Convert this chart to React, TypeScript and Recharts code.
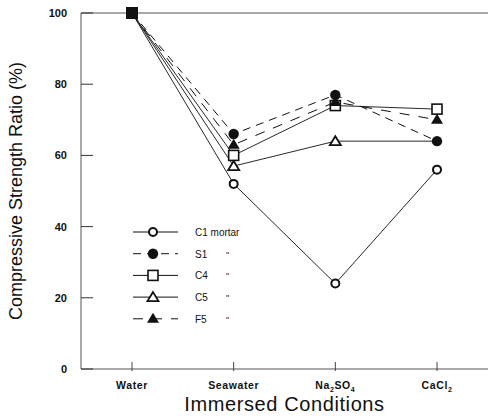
import { LineChart, Line, XAxis, YAxis, ReferenceLine } from "recharts";

const conditions = ["Water", "Seawater", "Na2SO4", "CaCl2"];
const c1 = [100, 52, 24, 56];
const s1 = [100, 66, 77, 64];
const c4 = [100, 60, 74, 73];
const c5 = [100, 57, 64, 64];
const f5 = [100, 63, 75, 70];
const yTicks = [0, 20, 40, 60, 80, 100];

const data = conditions.map((name, i) => ({
  name,
  c1: c1[i],
  s1: s1[i],
  c4: c4[i],
  c5: c5[i],
  f5: f5[i],
}));

type Shape = "circle" | "dot" | "square" | "triangle" | "filledTriangle";

type Series = { key: string; label: string; shape: Shape; dash?: string; ditto: boolean };

// legend order
const series: Series[] = [
  { key: "c1", label: "C1 mortar", shape: "circle", ditto: false },
  { key: "s1", label: "S1", shape: "dot", dash: "8 6", ditto: true },
  { key: "c4", label: "C4", shape: "square", ditto: true },
  { key: "c5", label: "C5", shape: "triangle", ditto: true },
  { key: "f5", label: "F5", shape: "filledTriangle", dash: "10 9", ditto: true },
];

// drawing order: S1 on top so it hides C5 at CaCl2
const drawOrder = ["c1", "c5", "c4", "f5", "s1"];

const INK = "#111";
const FONT = "Arial, Liberation Sans, sans-serif";

function Marker({ shape, cx, cy }: { shape: Shape; cx: number; cy: number }) {
  switch (shape) {
    case "circle":
      return <circle cx={cx} cy={cy} r={4} fill="#fff" stroke={INK} strokeWidth={2} />;
    case "dot":
      return <circle cx={cx} cy={cy} r={5.2} fill={INK} />;
    case "square":
      return <rect x={cx - 5} y={cy - 5} width={10} height={10} fill="#fff" stroke={INK} strokeWidth={1.6} />;
    case "triangle":
      return (
        <polygon
          points={`${cx},${cy - 5} ${cx + 5.5},${cy + 4} ${cx - 5.5},${cy + 4}`}
          fill="#fff"
          stroke={INK}
          strokeWidth={1.8}
        />
      );
    default:
      return <polygon points={`${cx},${cy - 6} ${cx + 6},${cy + 4} ${cx - 6},${cy + 4}`} fill={INK} />;
  }
}

function makeDot(s: Series) {
  return (props: any) => {
    const { cx, cy, index } = props;
    if (cx == null || cy == null) return <g key={index} />;
    if (index === 0) {
      return <rect key={index} x={cx - 6} y={cy - 6} width={12} height={12} fill={INK} />;
    }
    // C5 marker is hidden under the S1 dot where both have the same value
    if (s.key === "c5" && c5[index] === s1[index]) return <g key={index} />;
    return (
      <g key={index}>
        <Marker shape={s.shape} cx={cx} cy={cy} />
      </g>
    );
  };
}

function YTick(props: any) {
  const { x, y, payload } = props;
  return (
    <g>
      <line x1={x} x2={x + 12} y1={y} y2={y} stroke="#333" strokeWidth={1} />
      <text x={x - 14} y={y + 4} textAnchor="end" fontSize={11} fontWeight="bold" fill={INK} fontFamily={FONT}>
        {payload.value}
      </text>
    </g>
  );
}

function XTick(props: any) {
  const { x, y, payload } = props;
  const v: string = payload.value;
  let label: any = v;
  if (v === "Na2SO4") {
    label = (
      <>
        Na<tspan dy={3} fontSize={7}>2</tspan>
        <tspan dy={-3}>SO</tspan>
        <tspan dy={3} fontSize={7}>4</tspan>
      </>
    );
  } else if (v === "CaCl2") {
    label = (
      <>
        CaCl<tspan dy={3} fontSize={7}>2</tspan>
      </>
    );
  }
  return (
    <g>
      <line x1={x} x2={x} y1={y} y2={y - 9} stroke="#444" strokeWidth={1} />
      <text
        x={x}
        y={y + 18}
        textAnchor="middle"
        fontSize={10.5}
        fontWeight="bold"
        letterSpacing={0.6}
        fill={INK}
        fontFamily={FONT}
      >
        {label}
      </text>
    </g>
  );
}

function LegendBox() {
  return (
    <svg width={140} height={110} style={{ overflow: "visible" }}>
      {series.map((s, i) => {
        const y = 10 + i * 21.7;
        return (
          <g key={s.key}>
            <line x1={2} x2={47} y1={y} y2={y} stroke={INK} strokeWidth={1} strokeDasharray={s.dash} />
            <Marker shape={s.shape} cx={22} cy={y} />
            <text x={64} y={y + 4} fontSize={10} fill={INK} fontFamily={FONT}>
              {s.label}
            </text>
            {s.ditto && (
              <text x={95} y={y + 4} fontSize={9} fill="#222" fontFamily={FONT}>
                "
              </text>
            )}
          </g>
        );
      })}
    </svg>
  );
}

export default function App() {
  const ordered = drawOrder.map((k) => series.find((s) => s.key === k)!);
  return (
    <div style={{ position: "absolute", left: 0, top: 0, width: 488, height: 419, background: "#fff" }}>
      <LineChart width={488} height={419} data={data} margin={{ top: 13, right: 0, bottom: 0, left: 0 }}>
        <ReferenceLine y={100} stroke="#555" strokeWidth={1.2} />
        <XAxis
          dataKey="name"
          height={50}
          padding={{ left: 51, right: 51 }}
          stroke="#555"
          tickLine={false}
          tickSize={0}
          tick={<XTick />}
          interval={0}
          label={{
            value: "Immersed Conditions",
            position: "insideBottom",
            offset: 8,
            fontSize: 20,
            letterSpacing: 0.6,
            fill: INK,
            fontFamily: FONT,
          }}
        />
        <YAxis
          width={81}
          domain={[0, 100]}
          ticks={yTicks}
          stroke="#555"
          tickLine={false}
          tickSize={0}
          tickMargin={0}
          tick={<YTick />}
          label={{
            value: "Compressive Strength Ratio (%)",
            angle: -90,
            position: "insideLeft",
            offset: 16,
            style: { textAnchor: "middle" },
            fontSize: 18,
            fill: INK,
            fontFamily: FONT,
          }}
        />
        {ordered.map((s) => (
          <Line
            key={s.key}
            dataKey={s.key}
            type="linear"
            stroke={INK}
            strokeWidth={s.dash ? 1 : 0.9}
            strokeDasharray={s.dash}
            dot={makeDot(s)}
            activeDot={false}
            isAnimationActive={false}
          />
        ))}
      </LineChart>
      <div style={{ position: "absolute", left: 131, top: 222 }}>
        <LegendBox />
      </div>
    </div>
  );
}
